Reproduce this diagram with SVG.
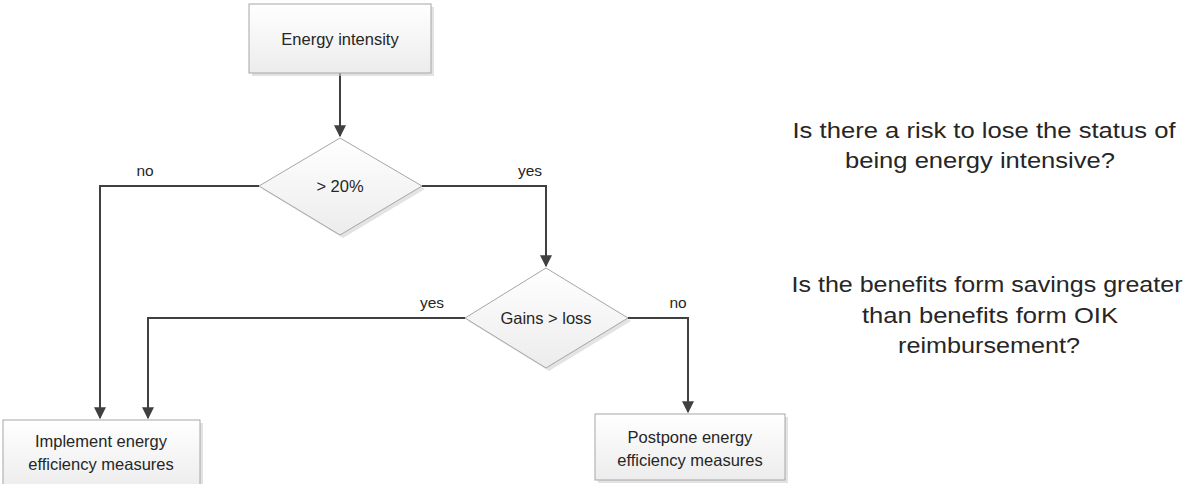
<svg xmlns="http://www.w3.org/2000/svg" width="1192" height="484" viewBox="0 0 1192 484">
<style>
text{font-family:"Liberation Sans",Arial,sans-serif;fill:#262626}
.n{font-size:16.5px;text-anchor:middle}
.l{font-size:15.5px;text-anchor:middle}
.q{font-size:22px;text-anchor:middle}
.shape{fill:url(#g);stroke:#a6a6a6;stroke-width:1}
.sh{fill:#d0d0d0;opacity:0.6}
.c{fill:none;stroke:#404040;stroke-width:2}
</style>
<defs>
<linearGradient id="g" x1="0" y1="0" x2="0" y2="1">
<stop offset="0" stop-color="#ffffff"/>
<stop offset="1" stop-color="#ececec"/>
</linearGradient>
<marker id="a" viewBox="0 0 10 10" refX="9" refY="5" markerWidth="6" markerHeight="6" orient="auto" markerUnits="strokeWidth">
<path d="M0,0 L10,5 L0,10 z" fill="#404040"/>
</marker>
</defs>
<g id="connectors">
<path class="c" d="M340,73 V136" marker-end="url(#a)"/>
<path class="c" d="M422,186 H546 V266" marker-end="url(#a)"/>
<path class="c" d="M259,186 H100 V418" marker-end="url(#a)"/>
<path class="c" d="M465,318 H148 V418" marker-end="url(#a)"/>
<path class="c" d="M628,318 H688 V412" marker-end="url(#a)"/>
<text class="l" x="145" y="176">no</text>
<text class="l" x="530" y="176">yes</text>
<text class="l" x="432" y="308">yes</text>
<text class="l" x="678" y="308">no</text>
</g>
<g id="energy-intensity">
<rect class="sh" x="252" y="7" width="182" height="69"/>
<rect class="shape" x="249" y="4" width="182" height="69"/>
<text class="n" x="340" y="45">Energy intensity</text>
</g>
<g id="d20">
<path class="sh" d="M343,141 L425,189 L343,238 L262,189 z"/>
<path class="shape" d="M340,138 L422,186 L340,235 L259,186 z"/>
<text class="n" x="340" y="192">&gt; 20%</text>
</g>
<g id="gains">
<path class="sh" d="M549,271 L631,321 L549,371 L468,321 z"/>
<path class="shape" d="M546,268 L628,318 L546,368 L465,318 z"/>
<text class="n" x="546" y="324">Gains &gt; loss</text>
</g>
<g id="implement">
<rect class="sh" x="6" y="423" width="197" height="70"/>
<rect class="shape" x="3" y="420" width="197" height="70"/>
<text class="n" x="101" y="447">Implement energy</text>
<text class="n" x="101" y="470">efficiency measures</text>
</g>
<g id="postpone">
<rect class="sh" x="598" y="417" width="190" height="66"/>
<rect class="shape" x="595" y="414" width="190" height="66"/>
<text class="n" x="690" y="443">Postpone energy</text>
<text class="n" x="690" y="466">efficiency measures</text>
</g>
<g id="questions">
<text class="q" x="984" y="138" textLength="383" lengthAdjust="spacingAndGlyphs">Is there a risk to lose the status of</text>
<text class="q" x="980" y="168" textLength="270" lengthAdjust="spacingAndGlyphs">being energy intensive?</text>
<text class="q" x="987" y="292" textLength="391" lengthAdjust="spacingAndGlyphs">Is the benefits form savings greater</text>
<text class="q" x="990" y="323" textLength="256" lengthAdjust="spacingAndGlyphs">than benefits form OIK</text>
<text class="q" x="989" y="353" textLength="182" lengthAdjust="spacingAndGlyphs">reimbursement?</text>
</g>
</svg>
